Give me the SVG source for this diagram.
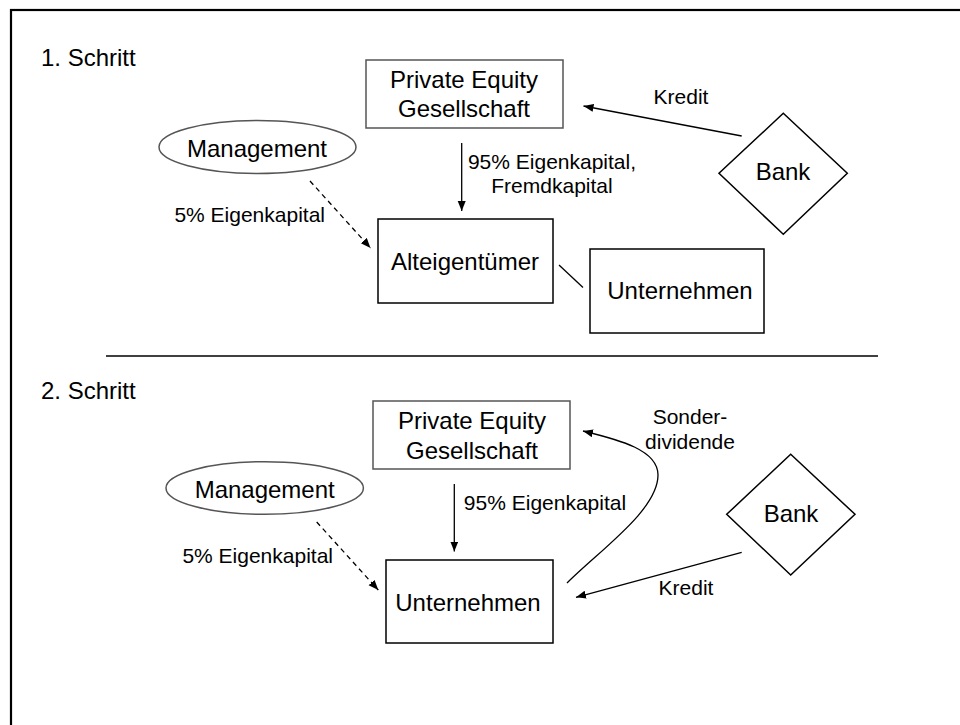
<svg xmlns="http://www.w3.org/2000/svg" width="960" height="725" viewBox="0 0 960 725">
<style>
text{font-family:"Liberation Sans",Arial,sans-serif;fill:#000}
.n{font-size:24px;text-anchor:middle}
.t{font-size:24px}
.l{font-size:21px}
.m{text-anchor:middle}
.e{text-anchor:end}
.box{fill:#fff;stroke:#000;stroke-width:1.5}
.pe{fill:#fff;stroke:#555;stroke-width:1.5}
.c{fill:none;stroke:#000;stroke-width:1.3}
.d{stroke-dasharray:5,4}
</style>
<defs>
<marker id="ah" markerUnits="userSpaceOnUse" markerWidth="12" markerHeight="10" refX="10" refY="4" orient="auto">
<path d="M0,0 L10,4 L0,8 z" fill="#000"/>
</marker>
</defs>
<rect x="11" y="10" width="1000" height="800" fill="#fff" stroke="#000" stroke-width="2.2"/>
<text class="t" x="41" y="66">1. Schritt</text>
<text class="t" x="41" y="399">2. Schritt</text>
<line x1="106" y1="356" x2="878" y2="356" stroke="#000" stroke-width="1.3"/>
<g id="connectors">
<line class="c" x1="461.7" y1="143" x2="461.7" y2="211" marker-end="url(#ah)"/>
<line class="c d" x1="310" y1="181" x2="370.5" y2="248" marker-end="url(#ah)"/>
<line class="c" x1="741.7" y1="136" x2="583.5" y2="106" marker-end="url(#ah)"/>
<line class="c" x1="559" y1="265" x2="583" y2="287.5"/>
<line class="c" x1="454.3" y1="484" x2="454.3" y2="551.5" marker-end="url(#ah)"/>
<line class="c d" x1="316.7" y1="522" x2="378.3" y2="590" marker-end="url(#ah)"/>
<line class="c" x1="741.7" y1="552.3" x2="576" y2="597.3" marker-end="url(#ah)"/>
<path class="c" d="M567,583 C600,550 658,510 658,475 C658,450 620,440 583,431" marker-end="url(#ah)"/>
<text class="l m" x="552" y="169">95% Eigenkapital,</text>
<text class="l m" x="552" y="193">Fremdkapital</text>
<text class="l e" x="325" y="222">5% Eigenkapital</text>
<text class="l m" x="681" y="104">Kredit</text>
<text class="l m" x="545" y="510">95% Eigenkapital</text>
<text class="l e" x="333" y="563">5% Eigenkapital</text>
<text class="l m" x="686" y="595">Kredit</text>
<text class="l m" x="690" y="424">Sonder-</text>
<text class="l m" x="690" y="449">dividende</text>
</g>
<g id="pe1">
<rect class="pe" x="366" y="60" width="197" height="68"/>
<text class="n" x="464" y="88">Private Equity</text>
<text class="n" x="464" y="117">Gesellschaft</text>
</g>
<g id="management1">
<ellipse class="pe" cx="257.5" cy="147" rx="98.5" ry="26.5"/>
<text class="n" x="257" y="157">Management</text>
</g>
<g id="alteigentuemer">
<rect class="box" x="378" y="219" width="175" height="84"/>
<text class="n" x="465" y="270">Alteigentümer</text>
</g>
<g id="unternehmen1">
<rect class="box" x="590" y="249" width="174" height="84"/>
<text class="n" x="680" y="299">Unternehmen</text>
</g>
<g id="bank1">
<polygon class="box" points="783.3,113.3 847.3,173.3 783.3,234.3 719,173.3" stroke-width="1.2"/>
<text class="n" x="783" y="180">Bank</text>
</g>
<g id="pe2">
<rect class="pe" x="373" y="401" width="197" height="68"/>
<text class="n" x="472" y="429">Private Equity</text>
<text class="n" x="472" y="458.5">Gesellschaft</text>
</g>
<g id="management2">
<ellipse class="pe" cx="264.7" cy="488" rx="98.7" ry="26.3"/>
<text class="n" x="264.7" y="497.7">Management</text>
</g>
<g id="unternehmen2">
<rect class="box" x="386" y="560" width="167" height="83"/>
<text class="n" x="468" y="610.7">Unternehmen</text>
</g>
<g id="bank2">
<polygon class="box" points="790.7,454.3 855,514.3 790.7,575 726.7,514.3" stroke-width="1.2"/>
<text class="n" x="791" y="521.7">Bank</text>
</g>
</svg>
